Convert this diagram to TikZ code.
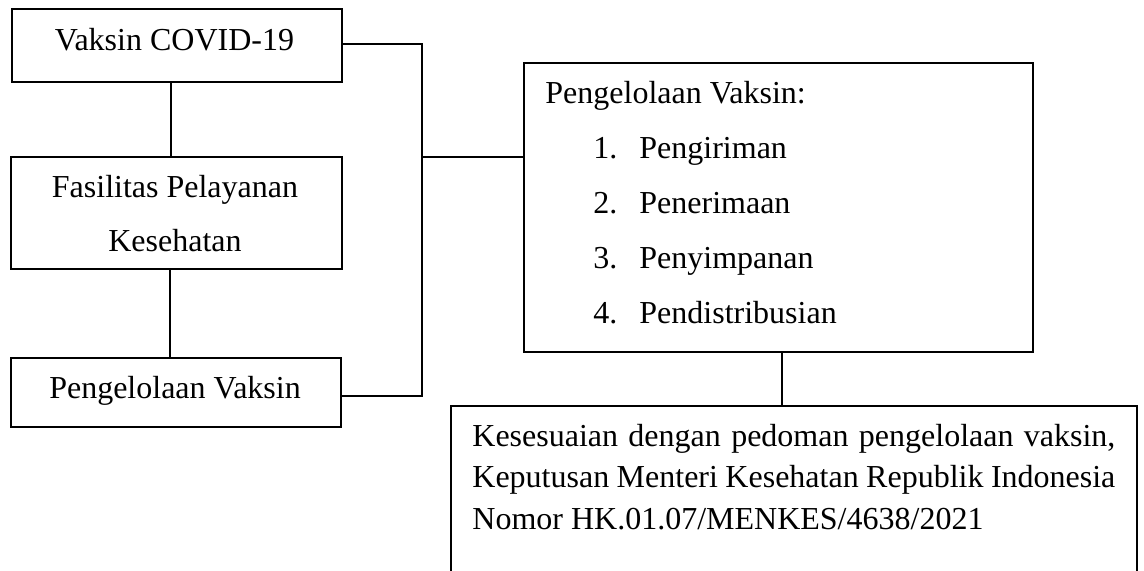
\documentclass[tikz,border=0pt]{standalone}
\usepackage{fontspec}
\setmainfont{Liberation Serif}
\begin{document}
\begin{tikzpicture}[x=0.5pt,y=-0.5pt,
  box/.style={draw,line width=1pt,rectangle,inner sep=0pt},
  txt/.style={inner sep=0pt,font=\fontsize{16pt}{19pt}\selectfont},
  conn/.style={line width=1pt}]
\useasboundingbox (0,0) rectangle (1144,570);
\clip (0,0) rectangle (1144,570);
% boxes
\node[box,minimum width=165pt,minimum height=36.5pt] (A) at (177,45.5) {};
\node[box,minimum width=165.5pt,minimum height=56pt] (B) at (176.5,213) {};
\node[box,minimum width=165pt,minimum height=34.5pt] (C) at (176,392.5) {};
\node[box,minimum width=254.5pt,minimum height=144.5pt] (D) at (778.5,207.5) {};
\coordinate (E1) at (451,590);
\coordinate (E2) at (451,406);
\coordinate (E3) at (1137,406);
\coordinate (E4) at (1137,590);
\draw[line width=1pt] (E1) -- (E2) -- (E3) -- (E4);
% texts
\node[txt,anchor=base] (tA) at (174.5,50) {Vaksin COVID-19};
\node[txt,anchor=base] (tB1) at (175,197) {Fasilitas Pelayanan};
\node[txt,anchor=base] (tB2) at (175,251) {Kesehatan};
\node[txt,anchor=base] (tC) at (175,398) {Pengelolaan Vaksin};
\node[txt,anchor=base west] (tD0) at (545,103) {Pengelolaan Vaksin:};
\node[txt,anchor=base west] (n1) at (593,158) {1.};
\node[txt,anchor=base west] (i1) at (639,158) {Pengiriman};
\node[txt,anchor=base west] (n2) at (593,213) {2.};
\node[txt,anchor=base west] (i2) at (639,213) {Penerimaan};
\node[txt,anchor=base west] (n3) at (593,268) {3.};
\node[txt,anchor=base west] (i3) at (639,268) {Penyimpanan};
\node[txt,anchor=base west] (n4) at (593,323) {4.};
\node[txt,anchor=base west] (i4) at (639,323) {Pendistribusian};
\node[txt,anchor=base west] (tE1) at (472,446) {\makebox[321.5pt][s]{Kesesuaian dengan pedoman pengelolaan vaksin,}};
\node[txt,anchor=base west] (tE2) at (472,487) {\makebox[321.5pt][s]{Keputusan Menteri Kesehatan Republik Indonesia}};
\node[txt,anchor=base west] (tE3) at (472,529) {Nomor HK.01.07/MENKES/4638/2021};
% connectors
\coordinate (v1) at (171,0);
\coordinate (v2) at (170,0);
\coordinate (bus) at (422,0);
\coordinate (busTop) at (422,44);
\coordinate (busBot) at (422,396);
\coordinate (busMid) at (422,157);
\coordinate (v3) at (782,0);
\draw[conn] (A.south -| v1) -- (B.north -| v1);
\draw[conn] (B.south -| v2) -- (C.north -| v2);
\draw[conn] (A.east |- busTop) -- (busTop) -- (busBot) -- (C.east |- busBot);
\draw[conn] (busMid) -- (D.west |- busMid);
\draw[conn] (D.south -| v3) -- (E2 -| v3);
\end{tikzpicture}
\end{document}
